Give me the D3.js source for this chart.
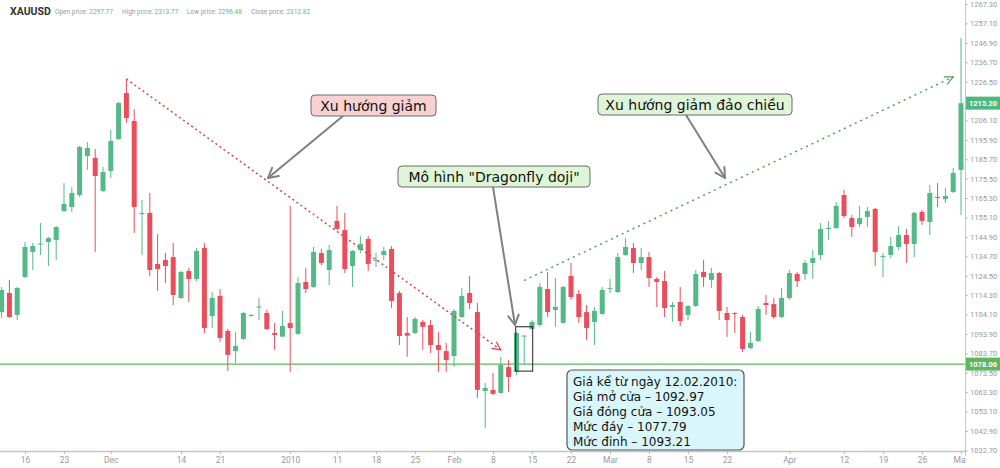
<!DOCTYPE html>
<html><head><meta charset="utf-8">
<script src="https://cdn.jsdelivr.net/npm/d3@7/dist/d3.min.js"></script>
<style>body{margin:0;background:#fff}svg{display:block}</style>
</head><body><svg id="c" width="1000" height="468"></svg>
<script>
const dates=["2009-11-11","2009-11-12","2009-11-13","2009-11-16","2009-11-17","2009-11-18","2009-11-19","2009-11-20","2009-11-23","2009-11-24","2009-11-25","2009-11-26","2009-11-27","2009-11-30","2009-12-01","2009-12-02","2009-12-03","2009-12-04","2009-12-07","2009-12-08","2009-12-09","2009-12-10","2009-12-11","2009-12-14","2009-12-15","2009-12-16","2009-12-17","2009-12-18","2009-12-21","2009-12-22","2009-12-23","2009-12-24","2009-12-25","2009-12-28","2009-12-29","2009-12-30","2009-12-31","2010-01-01","2010-01-04","2010-01-05","2010-01-06","2010-01-07","2010-01-08","2010-01-11","2010-01-12","2010-01-13","2010-01-14","2010-01-15","2010-01-18","2010-01-19","2010-01-20","2010-01-21","2010-01-22","2010-01-25","2010-01-26","2010-01-27","2010-01-28","2010-01-29","2010-02-01","2010-02-02","2010-02-03","2010-02-04","2010-02-05","2010-02-08","2010-02-09","2010-02-10","2010-02-11","2010-02-12","2010-02-15","2010-02-16","2010-02-17","2010-02-18","2010-02-19","2010-02-22","2010-02-23","2010-02-24","2010-02-25","2010-02-26","2010-03-01","2010-03-02","2010-03-03","2010-03-04","2010-03-05","2010-03-08","2010-03-09","2010-03-10","2010-03-11","2010-03-12","2010-03-15","2010-03-16","2010-03-17","2010-03-18","2010-03-19","2010-03-22","2010-03-23","2010-03-24","2010-03-25","2010-03-26","2010-03-29","2010-03-30","2010-03-31","2010-04-01","2010-04-02","2010-04-05","2010-04-06","2010-04-07","2010-04-08","2010-04-09","2010-04-12","2010-04-13","2010-04-14","2010-04-15","2010-04-16","2010-04-19","2010-04-20","2010-04-21","2010-04-22","2010-04-23","2010-04-26","2010-04-27","2010-04-28","2010-04-29","2010-04-30","2010-05-03"];
const openP=[1105.4,1115.4,1103.9,1123.8,1137.0,1140.9,1142.2,1143.3,1158.5,1160.6,1166.9,1187.4,1186.4,1169.0,1179.5,1196.4,1220.5,1205.8,1156.9,1157.5,1130.7,1132.8,1134.3,1112.8,1127.0,1122.8,1139.1,1103.3,1113.9,1095.5,1084.9,1091.3,1103.6,1107.8,1104.9,1094.4,1092.5,1099.7,1093.9,1121.2,1118.6,1136.4,1127.5,1153.3,1148.5,1129.6,1138.0,1143.8,1132.5,1135.4,1138.6,1115.4,1094.4,1094.4,1100.2,1098.6,1088.1,1084.9,1082.3,1102.8,1115.4,1105.4,1063.9,1064.5,1062.9,1076.5,1073.9,1092.97,1096.5,1098.6,1117.5,1106.5,1099.7,1124.4,1114.9,1105.4,1100.2,1104.4,1117.8,1115.9,1135.4,1139.1,1131.2,1134.3,1122.8,1121.7,1108.1,1110.7,1103.9,1108.6,1126.5,1122.3,1125.9,1104.9,1104.9,1102.8,1086.5,1090.2,1110.2,1109.6,1102.8,1112.8,1125.4,1125.4,1131.2,1135.4,1149.1,1149.6,1166.9,1154.8,1151.7,1155.4,1159.6,1134.3,1135.4,1139.6,1145.9,1141.2,1158.0,1152.7,1165.9,1164.8,1168.5,1180.1];
const highP=[1118.6,1122.3,1118.6,1142.2,1141.7,1152.2,1144.9,1150.6,1173.2,1171.1,1192.7,1194.8,1191.1,1181.6,1201.1,1215.8,1227.9,1212.1,1164.3,1168.0,1146.4,1136.4,1141.7,1127.0,1128.6,1139.1,1141.7,1115.9,1117.5,1096.5,1094.9,1105.4,1104.4,1112.8,1106.5,1099.7,1106.0,1161.2,1123.8,1128.6,1139.6,1138.6,1140.7,1161.2,1157.5,1138.0,1145.4,1145.4,1136.4,1139.6,1140.1,1116.5,1102.8,1102.8,1101.2,1101.2,1094.9,1089.2,1107.0,1118.1,1124.4,1110.2,1068.1,1073.4,1081.8,1080.2,1095.0,1093.21,1101.2,1120.7,1126.5,1123.3,1119.1,1131.2,1117.0,1109.1,1108.1,1118.6,1122.8,1136.4,1144.3,1141.7,1139.1,1137.0,1123.8,1127.0,1110.7,1118.6,1109.1,1127.5,1132.8,1128.6,1126.5,1108.1,1105.4,1103.9,1094.9,1108.6,1114.4,1112.8,1118.1,1127.5,1126.5,1132.8,1138.0,1152.2,1153.3,1163.3,1169.6,1156.4,1161.2,1160.6,1160.1,1136.4,1144.9,1150.6,1149.1,1158.0,1159.0,1172.2,1173.2,1170.6,1181.1,1249.4];
const lowP=[1102.3,1102.3,1101.2,1123.3,1127.5,1135.4,1129.6,1132.8,1158.0,1158.0,1165.9,1180.1,1137.0,1168.5,1175.9,1195.8,1204.8,1147.0,1135.4,1124.4,1116.5,1120.7,1109.1,1112.3,1110.7,1121.7,1094.4,1097.0,1089.7,1074.4,1078.6,1090.7,1103.0,1101.2,1096.0,1085.5,1092.3,1073.9,1093.4,1115.4,1118.1,1130.1,1119.6,1148.5,1125.9,1118.6,1136.4,1127.0,1129.1,1132.8,1107.5,1088.1,1081.8,1093.9,1085.5,1083.9,1073.9,1073.9,1076.5,1102.3,1107.0,1060.3,1044.5,1061.8,1062.4,1063.4,1072.3,1077.79,1096.0,1097.6,1102.8,1097.6,1099.2,1111.9,1099.7,1090.7,1088.1,1103.9,1115.4,1115.4,1134.9,1125.9,1127.5,1118.6,1108.1,1102.8,1100.2,1098.1,1101.2,1108.1,1118.6,1118.1,1101.2,1092.3,1094.4,1084.4,1086.0,1089.7,1103.9,1101.8,1102.3,1111.9,1118.6,1122.3,1122.8,1132.8,1143.3,1149.1,1154.8,1144.9,1150.1,1150.1,1129.6,1123.8,1133.8,1138.0,1131.2,1134.3,1151.2,1145.9,1160.6,1162.7,1168.0,1156.4];
const closeP=[1117.0,1102.8,1118.1,1139.6,1140.1,1141.4,1144.3,1150.1,1162.2,1168.0,1192.2,1191.6,1176.9,1179.0,1195.3,1215.3,1207.4,1160.6,1157.5,1127.5,1128.0,1129.6,1114.4,1126.5,1122.8,1137.5,1097.0,1112.8,1091.8,1082.9,1087.6,1104.9,1103.9,1108.3,1096.5,1093.4,1098.1,1097.0,1120.7,1117.5,1137.0,1131.2,1138.0,1149.1,1128.0,1137.5,1141.2,1130.7,1132.8,1137.5,1111.2,1092.8,1093.0,1101.8,1097.6,1088.1,1085.5,1080.2,1106.0,1113.9,1110.2,1064.5,1065.5,1062.4,1077.6,1071.3,1094.4,1093.05,1100.2,1118.6,1105.4,1108.1,1118.6,1113.3,1102.8,1097.0,1106.0,1117.0,1118.1,1134.3,1139.6,1131.2,1134.3,1123.3,1121.2,1107.5,1109.1,1100.7,1108.6,1125.4,1123.8,1125.9,1106.0,1101.2,1104.7,1086.0,1089.2,1107.0,1109.1,1102.8,1112.8,1125.9,1121.7,1131.2,1133.8,1149.1,1149.6,1161.2,1155.9,1150.1,1154.8,1158.5,1137.0,1134.9,1140.1,1145.9,1141.2,1157.5,1153.3,1168.0,1165.4,1166.4,1178.5,1215.2];

const xTickDates=["2009-11-16","2009-11-23","2009-12-01","2009-12-14","2009-12-21","2010-01-01","2010-01-11","2010-01-18","2010-01-25","2010-02-01","2010-02-08","2010-02-15","2010-02-22","2010-03-01","2010-03-08","2010-03-15","2010-03-22","2010-04-01","2010-04-12","2010-04-19","2010-04-26","2010-05-03"];
const xTickLabels=["16","23","Dec","14","21","2010","11","18","25","Feb","8","15","22","Mar","8","15","22","Apr","12","19","26","May"];
const yTicks=[1032.70,1042.90,1053.10,1063.30,1073.50,1083.70,1093.90,1104.10,1114.30,1124.50,1134.70,1144.90,1155.10,1165.30,1175.50,1185.70,1195.90,1206.10,1216.30,1226.50,1236.70,1246.90,1257.10,1267.30];

const supportLevel=1078.06;
const dojiDate="2010-02-12";
const headerNames=["Open price:","High price:","Low price:","Close price:"];
const headerValues=["2297.77","2313.77","2296.48","2312.82"];
const trendDown=[{d:"2009-12-03",p:1227.9},{d:"2010-02-09",p:1085.5}];
const trendUp=[{d:"2010-02-12",p:1122.0},{d:"2010-04-30",p:1229.0}];

const UP="#53b987", DOWN="#eb4d5c";
const plotR=965, plotB=451;
const x=d3.scalePoint().domain(dates).range([1.6,961]);
const y=d3.scaleLinear().domain([1032.7,1267.3]).range([450.4,4]);
const svg=d3.select("#c");
const defs=svg.append("defs");
defs.append("clipPath").attr("id","plot").append("rect").attr("x",0).attr("y",0).attr("width",plotR).attr("height",plotB);
defs.append("clipPath").attr("id","xax").append("rect").attr("x",0).attr("y",-5).attr("width",plotR+1).attr("height",30);

const data=dates.map((d,i)=>({d,o:openP[i],h:highP[i],l:lowP[i],c:closeP[i]}));

// support line
svg.append("line").attr("x1",0).attr("x2",plotR).attr("y1",y(supportLevel)).attr("y2",y(supportLevel))
  .attr("stroke","#5fb65f").attr("stroke-width",1.4);

const g=svg.append("g").attr("clip-path","url(#plot)");
g.selectAll("line.w").data(data).join("line").attr("class","w")
  .attr("x1",d=>x(d.d)).attr("x2",d=>x(d.d)).attr("y1",d=>y(d.h)).attr("y2",d=>y(d.l))
  .attr("stroke",d=>d.c>=d.o?UP:DOWN).attr("stroke-width",1);
g.selectAll("rect.b").data(data).join("rect").attr("class","b")
  .attr("x",d=>x(d.d)-2.5).attr("width",5)
  .attr("y",d=>y(Math.max(d.o,d.c))).attr("height",d=>Math.max(1,Math.abs(y(d.o)-y(d.c))))
  .attr("fill",d=>d.c>=d.o?UP:DOWN);

// right axis
svg.append("line").attr("x1",plotR+0.5).attr("x2",plotR+0.5).attr("y1",0).attr("y2",456).attr("stroke","#c8c8c8");
const ya=svg.append("g").attr("transform",`translate(${plotR},0)`)
  .call(d3.axisRight(y).tickValues(yTicks).tickFormat(d3.format(".2f")).tickSize(3).tickPadding(2));
ya.select(".domain").remove();
ya.selectAll(".tick line").attr("stroke","#bbb");
ya.selectAll("text").attr("fill","#9a9a9a").style("font-family","Roboto, sans-serif").style("font-size","7.5px");

// bottom axis
svg.append("line").attr("x1",0).attr("x2",plotR).attr("y1",plotB+0.5).attr("y2",plotB+0.5).attr("stroke","#c4c4c4").attr("stroke-width",1.6);
const xa=svg.append("g").attr("transform",`translate(0,${plotB})`).attr("clip-path","url(#xax)")
  .call(d3.axisBottom(x).tickValues(xTickDates).tickFormat(d=>xTickLabels[xTickDates.indexOf(d)]).tickSize(3).tickPadding(3));
xa.select(".domain").remove();
xa.selectAll(".tick line").attr("stroke","#bbb");
xa.selectAll("text").attr("fill","#9a9a9a").style("font-family","Roboto, sans-serif").style("font-size","8.5px");

// highlighted price labels
function priceTag(v,color){
  const gy=y(v);
  svg.append("rect").attr("x",plotR+1).attr("y",gy-6.5).attr("width",35).attr("height",13).attr("fill",color);
  svg.append("text").attr("x",plotR+4).attr("y",gy+2.7).text(v.toFixed(2)).attr("fill","#fff")
    .style("font-family","Roboto, sans-serif").style("font-size","7.5px").style("font-weight","bold");
}
priceTag(closeP[closeP.length-1],"#4fb882");
priceTag(supportLevel,"#5fb65f");

// trend lines with arrowheads
function arrowHead(sel,x1,y1,x2,y2,len,ang,color,w){
  const a=Math.atan2(y2-y1,x2-x1);
  [ang,-ang].forEach(s=>{
    sel.append("line").attr("x1",x2).attr("y1",y2)
      .attr("x2",x2-len*Math.cos(a+s)).attr("y2",y2-len*Math.sin(a+s))
      .attr("stroke",color).attr("stroke-width",w).attr("stroke-linecap","round");
  });
}
function trend(t,color,dash){
  const x1=x(t[0].d),y1=y(t[0].p),x2=x(t[1].d),y2=y(t[1].p);
  svg.append("line").attr("x1",x1).attr("y1",y1).attr("x2",x2).attr("y2",y2)
    .attr("stroke",color).attr("stroke-width",1.5).attr("stroke-dasharray",dash);
  arrowHead(svg,x1,y1,x2,y2,9,0.45,color,1.2);
}
trend(trendDown,"#d9434e","2,3");
trend(trendUp,"#4f9e62","2,4");

// doji box
const dj=dates.indexOf(dojiDate);
svg.append("rect").attr("x",x(dojiDate)-8.5).attr("y",y(highP[dj])-8.5).attr("width",17)
  .attr("height",y(lowP[dj])-y(highP[dj])+15).attr("fill","none").attr("stroke","#222").attr("stroke-width",1);

// callouts
const FONT="'DejaVu Sans', sans-serif";
function callout(txt,bx,by,bw,fill,ax1,ay1,ax2,ay2){
  svg.append("line").attr("x1",ax1).attr("y1",ay1).attr("x2",ax2).attr("y2",ay2).attr("stroke","#808080").attr("stroke-width",2);
  arrowHead(svg,ax1,ay1,ax2,ay2,11,0.5,"#808080",2);
  svg.append("rect").attr("x",bx).attr("y",by).attr("width",bw).attr("height",21).attr("rx",4)
    .attr("fill",fill).attr("stroke","#6a6a6a").attr("stroke-width",1);
  svg.append("text").attr("x",bx+bw/2).attr("y",by+15.5).attr("text-anchor","middle").text(txt)
    .attr("fill","#111").style("font-family",FONT).style("font-size","14px");
}
callout("Xu hướng giảm",311,95,125,"#f8d2d2",343,116,268,178);
callout("Xu hướng giảm đảo chiều",598,94,194,"#def6d7",686,115,725,178);
callout("Mô hình \"Dragonfly doji\"",398,166,192,"#def6d7",493,187,515,325);

// info box
svg.append("rect").attr("x",567).attr("y",370).attr("width",177).attr("height",80).attr("rx",5)
  .attr("fill","#d9f7fb").attr("stroke","#555").attr("stroke-width",1.2);
const dparts=dojiDate.split("-");
const infoLines=[`Giá kể từ ngày ${dparts[2]}.${dparts[1]}.${dparts[0]}:`,
  `Giá mở cửa – ${openP[dj].toFixed(2)}`,`Giá đóng cửa – ${closeP[dj].toFixed(2)}`,
  `Mức đáy – ${lowP[dj].toFixed(2)}`,`Mức đỉnh – ${highP[dj].toFixed(2)}`];
svg.append("g").selectAll("text").data(infoLines).join("text")
  .attr("x",573).attr("y",(d,i)=>386+i*15).text(d=>d).attr("fill","#111")
  .style("font-family",FONT).style("font-size","12px");

// header
const ht=svg.append("text").attr("x",10).attr("y",15).style("font-family","Roboto, sans-serif");
ht.append("tspan").text("XAUUSD").attr("fill","#333").style("font-weight","bold").style("font-size","10.5px");
let hx=[55,122,187,251];
headerNames.forEach((n,i)=>{
  const t=svg.append("text").attr("x",hx[i]).attr("y",14).style("font-family","Roboto, sans-serif").style("font-size","6.5px");
  t.append("tspan").text(n+" ").attr("fill","#999");
  t.append("tspan").text(headerValues[i]).attr("fill","#5cb88a");
});
</script></body></html>
